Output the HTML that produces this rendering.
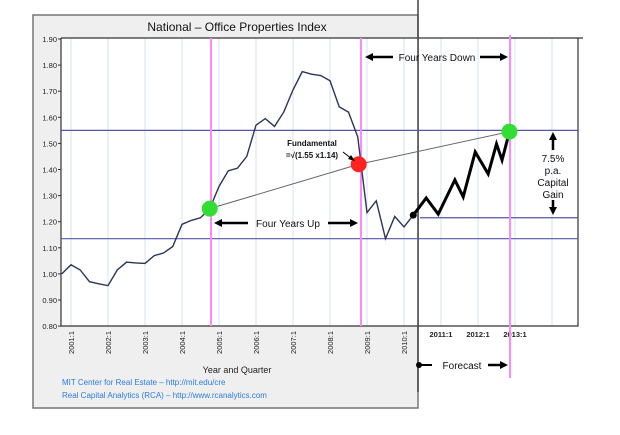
<!DOCTYPE html>
<html><head><meta charset="utf-8"><style>
body{margin:0;background:#fff;}
svg{display:block;font-family:"Liberation Sans",sans-serif;}
</style></head><body>
<svg id="c" width="620" height="435" viewBox="0 0 620 435">
<rect x="33" y="15" width="385" height="393" fill="#efefef" stroke="#777" stroke-width="1.5"/>
<rect x="61" y="38" width="357" height="288" fill="#fff"/>
<text x="237" y="31" font-size="12" text-anchor="middle" fill="#111">National – Office Properties Index</text>
<g id="grid"></g>
<g id="axes"></g>
<g id="marks"></g>
<g id="annot"></g>
</svg>
<script>
const histQuarters=["2000:4","2001:1","2001:2","2001:3","2001:4","2002:1","2002:2","2002:3","2002:4","2003:1","2003:2","2003:3","2003:4","2004:1","2004:2","2004:3","2004:4","2005:1","2005:2","2005:3","2005:4","2006:1","2006:2","2006:3","2006:4","2007:1","2007:2","2007:3","2007:4","2008:1","2008:2","2008:3","2008:4","2009:1","2009:2","2009:3","2009:4","2010:1","2010:2"];
const histValues=[1.00,1.035,1.015,0.97,0.962,0.955,1.015,1.045,1.042,1.04,1.07,1.08,1.105,1.19,1.205,1.215,1.25,1.335,1.395,1.405,1.45,1.57,1.595,1.565,1.62,1.705,1.775,1.765,1.76,1.74,1.64,1.62,1.525,1.235,1.28,1.135,1.22,1.18,1.225];
const forecastQ=[38,39.4,40.7,42.5,43.4,44.7,46.1,47,47.6,48.4];
const forecastValues=[1.225,1.291,1.229,1.36,1.295,1.467,1.383,1.498,1.436,1.545];
const yTicks=[0.80,0.90,1.00,1.10,1.20,1.30,1.40,1.50,1.60,1.70,1.80,1.90];
const yearLabels=["2001:1","2002:1","2003:1","2004:1","2005:1","2006:1","2007:1","2008:1","2009:1","2010:1"];
const forecastYearLabels=["2011:1","2012:1","2013:1"];
const hLevels=[1.55,1.135];
const trendQ=[16,32.1,48.4];
const trendValues=[1.25,1.42,1.545];

const NS="http://www.w3.org/2000/svg";
const xS=q=>61.75+q*9.25;
const yS=v=>39+(1.90-v)*261;
function mk(tag,attrs,parent,txt){const e=document.createElementNS(NS,tag);for(const k in attrs)e.setAttribute(k,attrs[k]);if(txt!=null)e.textContent=txt;document.getElementById(parent).appendChild(e);return e;}

// grid
yearLabels.concat(forecastYearLabels).concat(["2014:1"]).forEach((l,i)=>{
  const x=xS(1+i*4);
  const g=mk('line',{x1:x,x2:x,y1:38,y2:326,stroke:'#d6e4f0','stroke-width':1},'grid');
  
  
});
// plot frame
let f=mk('path',{d:'M61 38 V326 H578 V38 M61 38 H583',fill:'none',stroke:'#333','stroke-width':1.2},'axes');

let bl=mk('line',{x1:418,x2:418,y1:0,y2:392,stroke:'#444','stroke-width':1.5},'axes');

yTicks.forEach(v=>{
  const t=mk('text',{x:57,y:yS(v)+3,'font-size':7.5,'text-anchor':'end',fill:'#222'},'axes',v.toFixed(2));
  
  mk('line',{x1:58,x2:61,y1:yS(v),y2:yS(v),stroke:'#333'},'axes');
});
yearLabels.forEach((l,i)=>{
  const x=xS(1+i*4);
  const t=mk('text',{x:0,y:0,'font-size':7.5,'text-anchor':'end',fill:'#222',transform:`translate(${x+3},331) rotate(-90)`},'axes',l);
  
});
forecastYearLabels.forEach((l,i)=>{
  const x=xS(41+i*4);
  const t=mk('text',{x:x,y:337,'font-size':7.5,'font-weight':'bold','text-anchor':'middle',fill:'#222'},'axes',l);
  
});
let xt=mk('text',{x:237,y:373,'font-size':9,'text-anchor':'middle',fill:'#222'},'axes','Year and Quarter');

let s1=mk('text',{x:62,y:385,'font-size':8,fill:'#2a7de1'},'axes','MIT Center for Real Estate – http://mit.edu/cre');

let s2=mk('text',{x:62,y:398,'font-size':8,fill:'#2a7de1'},'axes','Real Capital Analytics (RCA) – http://www.rcanalytics.com');


// horizontal levels
hLevels.forEach(v=>{
  const l=mk('line',{x1:61,x2:578,y1:yS(v),y2:yS(v),stroke:'#5555aa','stroke-width':1.2},'marks');
  
});
let hl=mk('line',{x1:420,x2:578,y1:yS(1.215),y2:yS(1.215),stroke:'#5555aa','stroke-width':1.2},'marks');

// pink lines
[[211,38,326],[361,38,326],[510,35,378]].forEach(p=>{
  const l=mk('line',{x1:p[0],x2:p[0],y1:p[1],y2:p[2],stroke:'#ff88ff','stroke-width':2},'marks');
  
});
// trend line
let tl=mk('polyline',{points:trendQ.map((q,i)=>xS(q)+','+yS(trendValues[i])).join(' '),fill:'none',stroke:'#666','stroke-width':1},'marks');

// history
let hp=mk('polyline',{points:histValues.map((v,i)=>xS(i)+','+yS(v)).join(' '),fill:'none',stroke:'#2a3558','stroke-width':1.4},'marks');

let fp=mk('polyline',{points:forecastValues.map((v,i)=>xS(forecastQ[i])+','+yS(v)).join(' '),fill:'none',stroke:'#000','stroke-width':3},'marks');

let sd=mk('circle',{cx:xS(forecastQ[0]),cy:yS(forecastValues[0]),r:3.5,fill:'#000'},'marks');

// circles
[['#33dd33','trough-point'],['#ff2222','fundamental-point'],['#33dd33','target-point']].forEach((c,i)=>{
  const e=mk('circle',{cx:xS(trendQ[i]),cy:yS(trendValues[i]),r:8,fill:c[0]},'marks');
  
});

// annotations
function arrow(x1,y1,x2,y2){
  const a=Math.atan2(y2-y1,x2-x1),L=8,W=4;
  mk('line',{x1,y1,x2:x2-Math.cos(a)*L,y2:y2-Math.sin(a)*L,stroke:'#000','stroke-width':2.5},'annot');
  const p=[[x2,y2],[x2-Math.cos(a)*L-Math.sin(a)*W,y2-Math.sin(a)*L+Math.cos(a)*W],[x2-Math.cos(a)*L+Math.sin(a)*W,y2-Math.sin(a)*L-Math.cos(a)*W]];
  mk('polygon',{points:p.map(q=>q.join(',')).join(' '),fill:'#000'},'annot');
}
arrow(393,57,365,57);arrow(480,57,508,57);
let t1=mk('text',{x:437,y:61,'font-size':10,'text-anchor':'middle',fill:'#111'},'annot','Four Years Down');

arrow(248,223,214,223);arrow(328,223,358,223);
let t2=mk('text',{x:288,y:227,'font-size':10,'text-anchor':'middle',fill:'#111'},'annot','Four Years Up');

mk('circle',{cx:419,cy:365,r:3,fill:'#000'},'annot');
mk('line',{x1:419,x2:432,y1:365,y2:365,stroke:'#000','stroke-width':2},'annot');
arrow(488,365,508,365);
let t3=mk('text',{x:462,y:369,'font-size':10,'text-anchor':'middle',fill:'#111'},'annot','Forecast');

let t4=mk('text',{x:312,y:146,'font-size':8,'font-weight':'bold','text-anchor':'middle',fill:'#111'},'annot','Fundamental');

let t5=mk('text',{x:312,y:158,'font-size':8,'font-weight':'bold','text-anchor':'middle',fill:'#111'},'annot','=√(1.55 x1.14)');

mk('line',{x1:343,y1:152,x2:352,y2:159,stroke:'#000','stroke-width':1},'annot');
mk('polygon',{points:'355,161 348,159 351,155',fill:'#000'},'annot');
arrow(553,150,553,132);arrow(553,200,553,215);
['7.5%','p.a.','Capital','Gain'].forEach((s,i)=>{
  const t=mk('text',{x:553,y:162+i*12,'font-size':10,'text-anchor':'middle',fill:'#111'},'annot',s);
  
});
</script>
</body></html>
